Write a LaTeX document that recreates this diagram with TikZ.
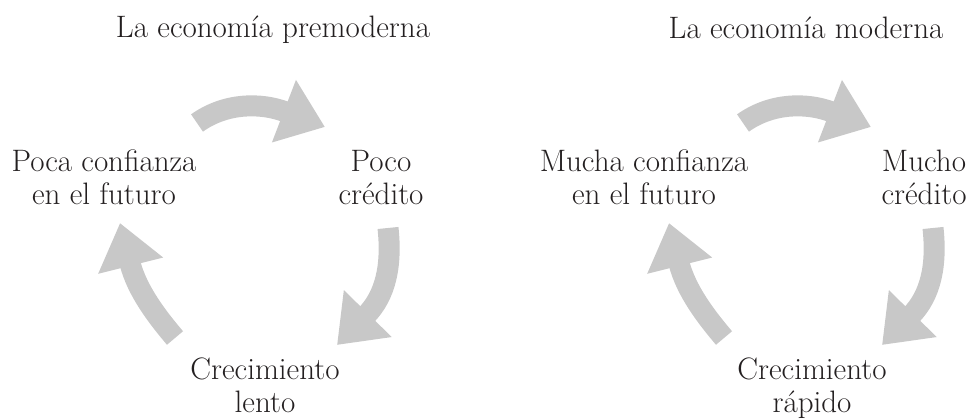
\documentclass[tikz,border=0pt]{standalone}
\usetikzlibrary{arrows.meta}
\definecolor{flecha}{RGB}{200,200,200}
\definecolor{texto}{RGB}{35,31,32}
\begin{document}
\begin{tikzpicture}[x=1pt,y=-1pt,
        lbl/.style={align=center,anchor=base,inner sep=0pt,text=texto,font=\fontsize{31}{33}\selectfont},
        ciclo/.style={line width=21pt,flecha,-{Triangle[length=44pt,width=64pt]}},]
    \useasboundingbox (0,0) rectangle (972,419);
    % la economia premoderna
    \node[lbl] (pre) at (273,38) {La economía premoderna};
    \node[lbl] (pconf) at (104,205) {Poca confianza\\en el futuro};
    \node[lbl] (pcred) at (381,205) {Poco\\crédito};
    \node[lbl] (pcrec) at (265,413) {Crecimiento\\lento};
    \coordinate (p1) at (197,123); \coordinate (p2) at (325,127);
    \coordinate (p3) at (388,228); \coordinate (p4) at (337,345);
    \coordinate (p5) at (175,338); \coordinate (p6) at (120,223);
    \draw[ciclo] (p1) .. controls (225,103) and (260,102) .. (p2);
    \draw[ciclo] (p3) .. controls (392,265) and (386,295) .. (p4);
    \draw[ciclo] (p5) .. controls (158,318) and (137,291) .. (p6);
    % la economia moderna
    \node[lbl] (mod) at (806,39) {La economía moderna};
    \node[lbl] (mconf) at (644,205) {Mucha confianza\\en el futuro};
    \node[lbl] (mcred) at (924,205) {Mucho\\crédito};
    \node[lbl] (mcrec) at (812,413) {Crecimiento\\rápido};
    \coordinate (m1) at (743,123); \coordinate (m2) at (871,127);
    \coordinate (m3) at (933,228); \coordinate (m4) at (882,345);
    \coordinate (m5) at (724,338); \coordinate (m6) at (669,223);
    \draw[ciclo] (m1) .. controls (771,103) and (806,102) .. (m2);
    \draw[ciclo] (m3) .. controls (937,265) and (931,295) .. (m4);
    \draw[ciclo] (m5) .. controls (707,318) and (686,291) .. (m6);
\end{tikzpicture}
\end{document}
